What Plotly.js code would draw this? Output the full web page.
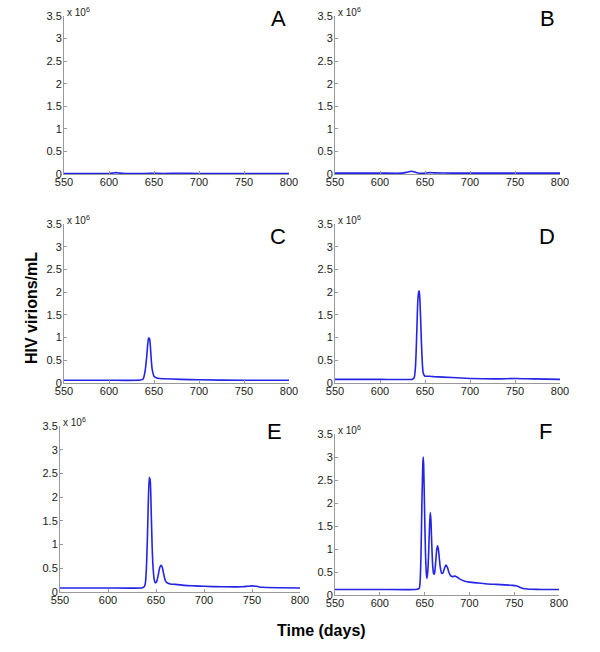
<!DOCTYPE html>
<html>
<head>
<meta charset="utf-8">
<script src="https://cdn.plot.ly/plotly-3.0.1.min.js"></script>
<style>html,body{margin:0;padding:0;background:#fff;}#chart{width:600px;height:652px;}</style>
</head>
<body>
<div id="chart"></div>
<script>
// Values in units of 10^6 virions/mL
const panelLabels = ["A", "B", "C", "D", "E", "F"];
const xTicks = [550, 600, 650, 700, 750, 800];
const yTicks = [0, 0.5, 1, 1.5, 2, 2.5, 3, 3.5];
const yTickText = ["0", "0.5", "1", "1.5", "2", "2.5", "3", "3.5"];

const daysA = [550, 600, 604, 608, 612, 618, 630, 645, 660, 680, 700, 750, 800];
const virA  = [0.012, 0.012, 0.02, 0.03, 0.02, 0.012, 0.008, 0.018, 0.012, 0.016, 0.012, 0.012, 0.012];

const daysB = [550, 600, 625, 630, 635, 640, 645, 650, 655, 660, 680, 700, 750, 800];
const virB  = [0.02, 0.02, 0.02, 0.04, 0.06, 0.035, 0.015, 0.02, 0.03, 0.025, 0.02, 0.02, 0.02, 0.02];

const daysC = [550, 600, 635, 638, 640, 642, 643, 644, 645, 646, 647, 648, 650, 653, 656, 660, 680, 700, 750, 800];
const virC  = [0.06, 0.06, 0.065, 0.09, 0.25, 0.6, 0.85, 0.99, 0.98, 0.8, 0.5, 0.3, 0.15, 0.11, 0.1, 0.095, 0.08, 0.07, 0.06, 0.06];

const daysD = [550, 600, 636, 638, 639, 640, 641, 642, 643, 643.5, 644, 645, 646, 647, 648, 650, 652, 655, 660, 680, 700, 730, 750, 770, 800];
const virD  = [0.08, 0.08, 0.085, 0.12, 0.25, 0.6, 1.2, 1.8, 2.0, 2.03, 1.95, 1.5, 0.9, 0.45, 0.22, 0.15, 0.15, 0.15, 0.14, 0.12, 0.1, 0.09, 0.1, 0.09, 0.08];

const daysE = [550, 600, 636, 638, 639, 640, 641, 642, 643, 644, 645, 646, 647, 648, 649, 650, 651, 652, 653, 654, 655, 656, 657, 658, 659, 660, 662, 665, 670, 680, 690, 700, 720, 740, 745, 750, 755, 760, 780, 800];
const virE  = [0.085, 0.085, 0.09, 0.12, 0.2, 0.5, 1.1, 1.9, 2.42, 2.35, 1.7, 0.95, 0.5, 0.28, 0.2, 0.2, 0.24, 0.32, 0.43, 0.52, 0.56, 0.55, 0.48, 0.38, 0.29, 0.23, 0.19, 0.17, 0.16, 0.14, 0.13, 0.12, 0.11, 0.11, 0.12, 0.13, 0.12, 0.1, 0.09, 0.085];

const daysF = [550, 600, 640, 644, 645, 646, 647, 648, 648.5, 649, 650, 651, 652, 652.6, 653.5, 654.5, 655.5, 656.3, 657, 658, 659, 660, 660.8, 661.5, 662.5, 663.5, 664.5, 665.5, 666.5, 667.5, 669, 670.5, 672, 673.8, 675.5, 677, 679, 681, 684, 687, 690, 695, 700, 710, 720, 730, 740, 748, 752, 756, 760, 765, 770, 780, 800];
const virF  = [0.12, 0.12, 0.12, 0.14, 0.3, 0.9, 2.0, 2.85, 3.0, 2.8, 1.8, 0.9, 0.45, 0.36, 0.5, 0.9, 1.5, 1.79, 1.65, 1.1, 0.65, 0.47, 0.45, 0.52, 0.75, 0.98, 1.07, 0.98, 0.78, 0.6, 0.47, 0.48, 0.57, 0.65, 0.6, 0.5, 0.42, 0.4, 0.41, 0.38, 0.34, 0.3, 0.28, 0.26, 0.24, 0.23, 0.22, 0.21, 0.2, 0.17, 0.14, 0.13, 0.125, 0.12, 0.12];

const series = [[daysA, virA], [daysB, virB], [daysC, virC], [daysD, virD], [daysE, virE], [daysF, virF]];

// Pixel boxes of each panel [x0, x1, yTop, yBottom]
const W = 600, H = 652;
const boxes = [
  [64, 289, 16, 174],
  [335, 560, 16, 174],
  [64, 289, 224, 383],
  [335, 560, 224, 383],
  [60, 300, 426, 592],
  [335, 559, 434, 595]
];
const labelPos = [[278, 19], [547, 19], [278, 236], [547, 236], [274, 432], [545, 432]];

const traces = [];
const layout = {
  width: W, height: H,
  margin: {l: 0, r: 0, t: 0, b: 0},
  paper_bgcolor: "#fff", plot_bgcolor: "#fff",
  showlegend: false,
  font: {family: "Liberation Sans, Arial, sans-serif", color: "#222"},
  annotations: []
};

series.forEach((s, i) => {
  const n = i === 0 ? "" : String(i + 1);
  traces.push({
    x: s[0], y: s[1], type: "scatter", mode: "lines",
    line: {color: "#2424e6", width: 1.6, shape: "spline", smoothing: 0.5},
    xaxis: "x" + n, yaxis: "y" + n, hoverinfo: "skip"
  });
  const b = boxes[i];
  const axCommon = {
    showgrid: false, zeroline: false, showline: true, linecolor: "#999", linewidth: 1,
    ticks: "inside", ticklen: 3, tickcolor: "#999",
    tickfont: {size: 11, color: "#1a1a1a", family: "Liberation Sans, Arial, sans-serif"},
    fixedrange: true
  };
  layout["xaxis" + n] = Object.assign({}, axCommon, {
    domain: [b[0] / W, b[1] / W], range: [550, 800],
    tickvals: xTicks, ticktext: xTicks.map(String),
    ticklabelstandoff: -2,
    anchor: "y" + n
  });
  layout["yaxis" + n] = Object.assign({}, axCommon, {
    domain: [1 - b[3] / H, 1 - b[2] / H], range: [0, 3.5],
    tickvals: yTicks, ticktext: yTickText,
    ticklabelstandoff: -1,
    anchor: "x" + n
  });
  layout.annotations.push({
    xref: "paper", yref: "paper", x: (b[0] + 1) / W, y: 1 - (b[2] + 4) / H,
    xanchor: "left", yanchor: "bottom", showarrow: false,
    text: "x 10<sup>6</sup>", font: {size: 10, color: "#222"}
  });
  const lp = labelPos[i];
  layout.annotations.push({
    xref: "paper", yref: "paper", x: lp[0] / W, y: 1 - lp[1] / H,
    xanchor: "center", yanchor: "middle", showarrow: false,
    text: panelLabels[i], font: {size: 22, color: "#000"}
  });
});

layout.annotations.push({
  xref: "paper", yref: "paper", x: 32 / W, y: 1 - 308 / H,
  xanchor: "center", yanchor: "middle", showarrow: false, textangle: -90,
  text: "<b>HIV virions/mL</b>", font: {size: 16, color: "#000"}
});
layout.annotations.push({
  xref: "paper", yref: "paper", x: 321 / W, y: 1 - 630 / H,
  xanchor: "center", yanchor: "middle", showarrow: false,
  text: "<b>Time (days)</b>", font: {size: 16, color: "#000"}
});

Plotly.newPlot("chart", traces, layout, {staticPlot: true, displayModeBar: false});
</script>
</body>
</html>
